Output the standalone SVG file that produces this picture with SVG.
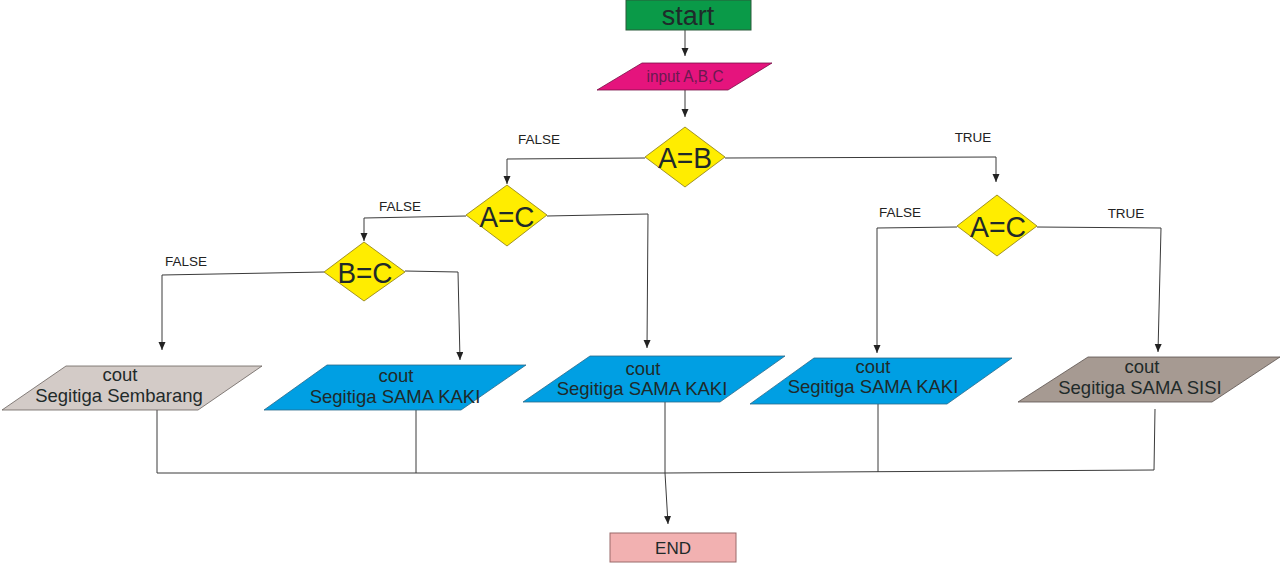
<svg xmlns="http://www.w3.org/2000/svg" width="1280" height="563" viewBox="0 0 1280 563">
<defs>
<marker id="arr" markerUnits="userSpaceOnUse" markerWidth="8" markerHeight="8" refX="8" refY="3.5" orient="auto">
<path d="M0,0 L8,3.5 L0,7 z" fill="#222"/>
</marker>
<style>
.t{font-family:"Liberation Sans",Arial,sans-serif;fill:#1f2a2a;text-anchor:middle}
.lbl{font-size:13.5px;fill:#222}
.io{font-size:18.5px}
.dec{font-size:30px}
.dia{fill:#ffed00;stroke:#8a7a10;stroke-width:0.8}
.blue{fill:#009fe3;stroke:#2a6a8a;stroke-width:0.8}
.ln{fill:none;stroke:#3a3a3a;stroke-width:1}
.ar{marker-end:url(#arr)}
</style>
</defs>
<rect width="1280" height="563" fill="#ffffff"/>

<g id="connectors">
<path class="ln ar" d="M685,30 V56"/>
<path class="ln ar" d="M685,90 V117"/>
<path class="ln ar" d="M645,158 L507,159 L507,184"/>
<path class="ln ar" d="M725,158 L996,157 L996,182"/>
<path class="ln ar" d="M466,216 L364,218 L364,241"/>
<path class="ln ar" d="M547,216 L648,214 L647,348"/>
<path class="ln ar" d="M324,272 L162,275 L162,350"/>
<path class="ln ar" d="M405,271 L458,272 L460,360"/>
<path class="ln ar" d="M957,227 L877,228 L877,353"/>
<path class="ln ar" d="M1037,227 L1161,228 L1158,352"/>
<path class="ln" d="M157,410 V473 M416,410 V473 M665,402 V473 M878,404 V472 M1155,409 L1154,470 M157,473 H665 L1154,470"/>
<path class="ln ar" d="M665,473 L668,524"/>
<text class="t lbl" x="539" y="144">FALSE</text>
<text class="t lbl" x="973" y="142">TRUE</text>
<text class="t lbl" x="400" y="211">FALSE</text>
<text class="t lbl" x="186" y="266">FALSE</text>
<text class="t lbl" x="900" y="217">FALSE</text>
<text class="t lbl" x="1126" y="218">TRUE</text>
</g>

<g id="start">
<rect x="626" y="0" width="125" height="30" fill="#0a9a48" stroke="#2a5a3a" stroke-width="1"/>
<text class="t" x="688" y="25" font-size="27" fill="#1a2e22">start</text>
</g>

<g id="input">
<polygon points="642,63 772,63 728,90 597,90" fill="#e5147d" stroke="#7a1048" stroke-width="0.8"/>
<text class="t" x="685" y="82" font-size="16" textLength="77" lengthAdjust="spacingAndGlyphs" style="fill:#6a1a50">input A,B,C</text>
</g>

<g id="dec_AB">
<polygon class="dia" points="685,127 725,157 685,187 645,157"/>
<text class="t dec" x="685" y="168" textLength="54" lengthAdjust="spacingAndGlyphs">A=B</text>
</g>

<g id="dec_AC_left">
<polygon class="dia" points="507,185 547,215 507,246 466,215"/>
<text class="t dec" x="507" y="227" textLength="55" lengthAdjust="spacingAndGlyphs">A=C</text>
</g>

<g id="dec_BC">
<polygon class="dia" points="364,242 405,272 364,301 324,272"/>
<text class="t dec" x="365" y="283" textLength="55" lengthAdjust="spacingAndGlyphs">B=C</text>
</g>

<g id="dec_AC_right">
<polygon class="dia" points="997,195 1037,226 997,256 957,226"/>
<text class="t dec" x="998" y="237" textLength="56" lengthAdjust="spacingAndGlyphs">A=C</text>
</g>

<g id="out_sembarang">
<polygon points="66,366 262,366 198,410 2,410" fill="#d3cbc7" stroke="#6a625e" stroke-width="0.8"/>
<text class="t io" x="120" y="381">cout</text>
<text class="t io" x="119" y="402">Segitiga Sembarang</text>
</g>

<g id="out_samakaki_1">
<polygon class="blue" points="327,365 526,365 461,410 264,410"/>
<text class="t io" x="396" y="382">cout</text>
<text class="t io" x="395" y="403">Segitiga SAMA KAKI</text>
</g>

<g id="out_samakaki_2">
<polygon class="blue" points="590,356 785,356 720,402 523,402"/>
<text class="t io" x="643" y="375">cout</text>
<text class="t io" x="642" y="395">Segitiga SAMA KAKI</text>
</g>

<g id="out_samakaki_3">
<polygon class="blue" points="814,358 1012,358 947,404 750,404"/>
<text class="t io" x="873" y="373">cout</text>
<text class="t io" x="873" y="393">Segitiga SAMA KAKI</text>
</g>

<g id="out_samasisi">
<polygon points="1088,357 1280,357 1212,402 1018,402" fill="#a69a92" stroke="#5a524e" stroke-width="0.8"/>
<text class="t io" x="1142" y="373">cout</text>
<text class="t io" x="1140" y="394">Segitiga SAMA SISI</text>
</g>

<g id="end">
<rect x="610" y="533" width="126" height="29" fill="#f2b1b1" stroke="#9a6a6a" stroke-width="1"/>
<text class="t" x="673" y="554" font-size="17" fill="#2a2020">END</text>
</g>
</svg>
